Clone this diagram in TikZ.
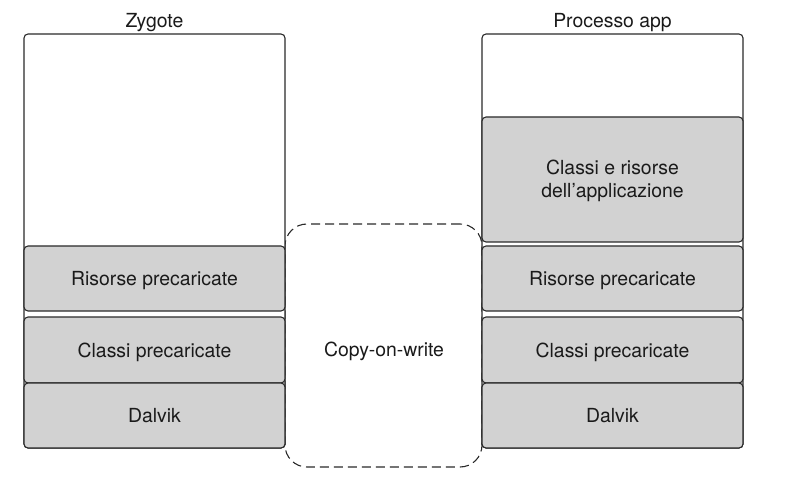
\documentclass[tikz,border=0pt]{standalone}
\usepackage{fontspec}
\setmainfont{TeX Gyre Heros}
\definecolor{linec}{HTML}{2A2A2A}
\definecolor{grayf}{HTML}{D2D2D2}
\definecolor{textc}{HTML}{1A1A1A}
\begin{document}
\begin{tikzpicture}[x=1pt,y=-1pt,
  every node/.style={font=\fontsize{19.4}{23}\selectfont, text=textc},
  outerbox/.style={draw=linec, fill=white, rounded corners=4pt, line width=1.1pt, minimum width=261pt, minimum height=414pt, inner sep=0pt},
  layerbox/.style={draw=linec, fill=grayf, rounded corners=4pt, line width=1.1pt, minimum width=261pt, inner sep=0pt, align=center},
  cowbox/.style={draw=linec, dash pattern=on 9pt off 5pt, rounded corners=22pt, line width=1.1pt, minimum width=197pt, minimum height=243pt, inner sep=0pt},
  lbl/.style={inner sep=0pt, text depth=0pt, align=center}]
\useasboundingbox (0,0) rectangle (800,486);
\node[cowbox] (cow) at (383.5,345.5) {};
\node[lbl] (cowlabel) at (384,349) {Copy-on-write};
% Zygote
\node[lbl] (zt) at (154.5,20) {Zygote};
\node[outerbox] (zo) at (154.5,241) {};
\node[layerbox, minimum height=65pt] (zr) at (154.5,278.5) {};
\node[layerbox, minimum height=66pt] (zc) at (154.5,350) {};
\node[layerbox, minimum height=65pt] (zd) at (154.5,415.5) {};
\node[lbl] (zrl) at (zr.center) {Risorse precaricate};
\node[lbl] (zcl) at (zc.center) {Classi precaricate};
\node[lbl] (zdl) at (zd.center) {Dalvik};
% App
\node[lbl] (at) at (612.5,20) {Processo app};
\node[outerbox] (ao) at (612.5,241) {};
\node[layerbox, minimum height=125pt] (aa) at (612.5,179.5) {};
\node[layerbox, minimum height=65pt] (ar) at (612.5,278.5) {};
\node[layerbox, minimum height=66pt] (ac) at (612.5,350) {};
\node[layerbox, minimum height=65pt] (ad) at (612.5,415.5) {};
\node[lbl] (aal) at ([yshift=1pt]aa.center) {Classi e risorse\\dell’applicazione};
\node[lbl] (arl) at (ar.center) {Risorse precaricate};
\node[lbl] (acl) at (ac.center) {Classi precaricate};
\node[lbl] (adl) at (ad.center) {Dalvik};
\end{tikzpicture}
\end{document}
